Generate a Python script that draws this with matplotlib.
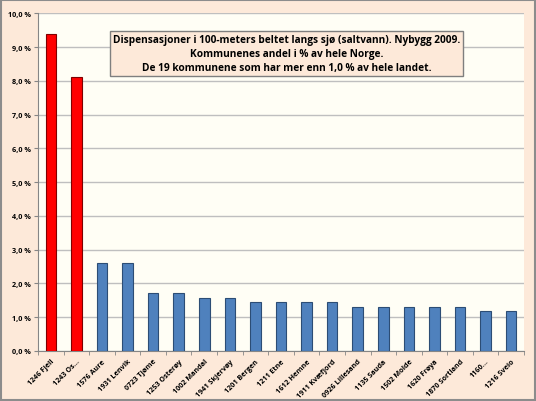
import numpy as np
import matplotlib.pyplot as plt
from matplotlib.patches import Rectangle

kommuner = ['1246 Fjell', '1243 Os...', '1576 Aure', '1931 Lenvik', '0723 Tjøme',
            '1253 Osterøy', '1002 Mandal', '1941 Skjervøy', '1201 Bergen', '1211 Etne',
            '1612 Hemne', '1911 Kvæfjord', '0926 Lillesand', '1135 Sauda', '1502 Molde',
            '1620 Frøya', '1870 Sortland', '1160...', '1216 Sveio']
andel = [9.4, 8.1, 2.6, 2.6, 1.7, 1.7, 1.56, 1.56, 1.43, 1.43,
         1.43, 1.43, 1.3, 1.3, 1.3, 1.3, 1.3, 1.17, 1.17]
yticks = np.arange(0, 10.1, 1.0)
tittel = ('Dispensasjoner i 100-meters beltet langs sjø (saltvann). Nybygg 2009.\n'
          'Kommunenes andel i % av hele Norge.\n'
          'De 19 kommunene som har mer enn 1,0 % av hele landet.')

plt.rcParams['font.family'] = ['Open Sans', 'DejaVu Sans']

fig = plt.figure(figsize=(5.36, 4.02), dpi=100)
fig.patch.set_facecolor('#fde9d9')
fig.patches.append(Rectangle((0.002, 0.002), 0.996, 0.996, transform=fig.transFigure,
                             fill=False, edgecolor='#8c8c8c', linewidth=1.5))

ax = fig.add_axes([0.0709, 0.125, 0.9067, 0.8394])
ax.set_facecolor('#fffef5')

x = np.arange(len(kommuner))
farger = ['#ff0000' if i < 2 else '#4f81bd' for i in range(len(kommuner))]
kanter = ['#7f0000' if i < 2 else '#2c4d75' for i in range(len(kommuner))]
ax.bar(x, andel, width=0.41, color=farger, edgecolor=kanter, linewidth=0.8, zorder=3)

ax.set_xlim(-0.5, len(kommuner) - 0.5)
ax.set_ylim(0, 10)
ax.set_yticks(yticks)
ax.set_yticklabels([f'{v:.1f} %'.replace('.', ',') for v in yticks],
                   fontsize=5.2, fontweight='bold')
ax.yaxis.grid(True, color='#bfbfbf', linewidth=1, zorder=0)
ax.tick_params(axis='y', length=3, color='#868686', pad=2)

ax.set_xticks(x)
ax.set_xticklabels(kommuner, rotation=45, ha='right', rotation_mode='anchor',
                   fontsize=5.2, fontweight='bold')
ax.tick_params(axis='x', length=0, pad=5)
ax.set_xticks(np.arange(-0.5, len(kommuner), 1), minor=True)
ax.tick_params(axis='x', which='minor', length=3, color='#868686')

for s in ['top', 'right']:
    ax.spines[s].set_visible(False)
ax.spines['left'].set_color('#868686')
ax.spines['bottom'].set_color('#868686')

ax.text(0.5112, 0.881, tittel, transform=ax.transAxes, ha='center', va='center',
        fontsize=7.3, fontweight='bold', linespacing=1.35, zorder=5,
        bbox=dict(boxstyle='square,pad=0.3', facecolor='#fde9d9', edgecolor='#7f7f7f',
                  linewidth=1))

fig.savefig('out.png', dpi=100, facecolor=fig.get_facecolor())
